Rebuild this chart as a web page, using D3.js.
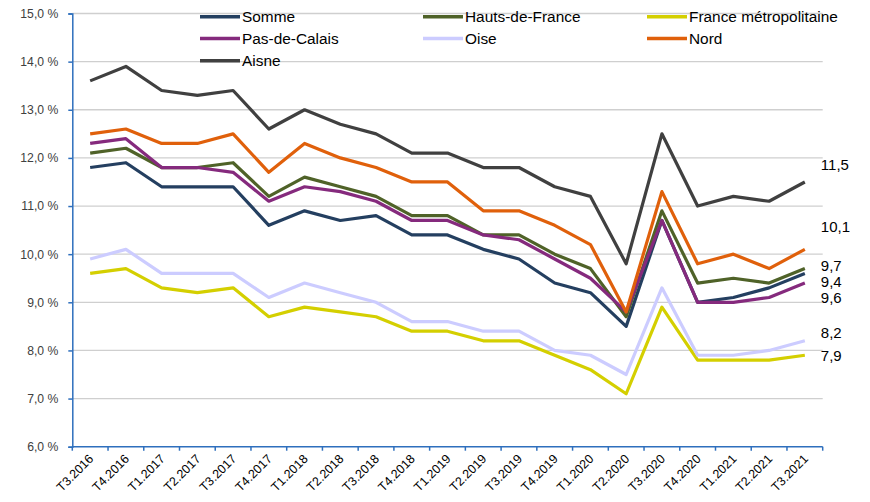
<!DOCTYPE html>
<html>
<head>
<meta charset="utf-8">
<script src="https://cdn.jsdelivr.net/npm/d3@7"></script>
<style>
  html, body { margin: 0; padding: 0; background: #fff; }
  svg { display: block; font-family: "Liberation Sans", Arial, sans-serif; }
</style>
</head>
<body>
<div id="chart"></div>
<script>
// Quarterly unemployment rates (%), T3.2016 -> T3.2021
const quarters = [
  "T3.2016", "T4.2016", "T1.2017", "T2.2017", "T3.2017", "T4.2017", "T1.2018",
  "T2.2018", "T3.2018", "T4.2018", "T1.2019", "T2.2019", "T3.2019", "T4.2019",
  "T1.2020", "T2.2020", "T3.2020", "T4.2020", "T1.2021", "T2.2021", "T3.2021"
];

const somme = [11.8, 11.9, 11.4, 11.4, 11.4, 10.6, 10.9, 10.7, 10.8, 10.4, 10.4, 10.1, 9.9, 9.4, 9.2, 8.5, 10.7, 9.0, 9.1, 9.3, 9.6];
const hautsDeFrance = [12.1, 12.2, 11.8, 11.8, 11.9, 11.2, 11.6, 11.4, 11.2, 10.8, 10.8, 10.4, 10.4, 10.0, 9.7, 8.7, 10.9, 9.4, 9.5, 9.4, 9.7];
const franceMetro = [9.6, 9.7, 9.3, 9.2, 9.3, 8.7, 8.9, 8.8, 8.7, 8.4, 8.4, 8.2, 8.2, 7.9, 7.6, 7.1, 8.9, 7.8, 7.8, 7.8, 7.9];
const pasDeCalais = [12.3, 12.4, 11.8, 11.8, 11.7, 11.1, 11.4, 11.3, 11.1, 10.7, 10.7, 10.4, 10.3, 9.9, 9.5, 8.8, 10.7, 9.0, 9.0, 9.1, 9.4];
const oise = [9.9, 10.1, 9.6, 9.6, 9.6, 9.1, 9.4, 9.2, 9.0, 8.6, 8.6, 8.4, 8.4, 8.0, 7.9, 7.5, 9.3, 7.9, 7.9, 8.0, 8.2];
const nord = [12.5, 12.6, 12.3, 12.3, 12.5, 11.7, 12.3, 12.0, 11.8, 11.5, 11.5, 10.9, 10.9, 10.6, 10.2, 8.8, 11.3, 9.8, 10.0, 9.7, 10.1];
const aisne = [13.6, 13.9, 13.4, 13.3, 13.4, 12.6, 13.0, 12.7, 12.5, 12.1, 12.1, 11.8, 11.8, 11.4, 11.2, 9.8, 12.5, 11.0, 11.2, 11.1, 11.5];

// end-of-line labels as printed in the source chart
const endLabels = ["11,5", "10,1", "9,7", "9,4", "9,6", "8,2", "7,9"];
const endLabelSeries = ["Aisne", "Nord", "Hauts-de-France", "Somme", "Pas-de-Calais", "Oise", "France métropolitaine"];

const yTicks = [6, 7, 8, 9, 10, 11, 12, 13, 14, 15];

const series = [
  { name: "Somme", values: somme, color: "#243f60" },
  { name: "Hauts-de-France", values: hautsDeFrance, color: "#4f6228" },
  { name: "France métropolitaine", values: franceMetro, color: "#d4cf00" },
  { name: "Pas-de-Calais", values: pasDeCalais, color: "#852a7d" },
  { name: "Oise", values: oise, color: "#ccccff" },
  { name: "Nord", values: nord, color: "#e0600b" },
  { name: "Aisne", values: aisne, color: "#404040" }
];

const width = 870;
const height = 502;
const AXIS_BLUE = "#2e6fbd";

const svg = d3.select("#chart").append("svg")
  .attr("width", width)
  .attr("height", height);

const x = d3.scaleBand().domain(quarters).range([72.3, 822.7]).padding(0);
const xc = (q) => x(q) + x.bandwidth() / 2;
const y = d3.scaleLinear().domain([6, 15]).range([446.7, 13.5]);

const fmtPct = (v) => d3.format(".1f")(v).replace(".", ",") + " %";

// gridlines
svg.append("g")
  .selectAll("line")
  .data(yTicks.filter((t) => t > 6))
  .join("line")
  .attr("x1", 72.3)
  .attr("x2", 822.7)
  .attr("y1", (d) => y(d))
  .attr("y2", (d) => y(d))
  .attr("stroke", "#cfcfcf")
  .attr("stroke-width", 1.3);

// y axis
const yAxis = svg.append("g")
  .attr("transform", `translate(${72.3},0)`)
  .call(d3.axisLeft(y).tickValues(yTicks).tickFormat(fmtPct).tickSize(4).tickPadding(10));
yAxis.select(".domain").attr("stroke", AXIS_BLUE).attr("stroke-width", 1.5);
yAxis.selectAll(".tick line").attr("stroke", AXIS_BLUE).attr("stroke-width", 1.5);
yAxis.selectAll(".tick text")
  .attr("font-size", 12.2)
  .attr("fill", "#404040")
  .style("font-family", "Liberation Sans, Arial, sans-serif");

// x axis: ticks between categories, labels rotated
const xAxis = svg.append("g").attr("transform", `translate(0,${y(6)})`);
xAxis.append("line")
  .attr("x1", 72.3).attr("x2", 822.7)
  .attr("stroke", AXIS_BLUE).attr("stroke-width", 1.5);
xAxis.selectAll(".xtick")
  .data(quarters.map((q) => x(q)).concat([x.range()[1]]))
  .join("line")
  .attr("class", "xtick")
  .attr("x1", (d) => d).attr("x2", (d) => d)
  .attr("y1", 0).attr("y2", 4)
  .attr("stroke", AXIS_BLUE).attr("stroke-width", 1.5);
xAxis.selectAll(".xlabel")
  .data(quarters)
  .join("text")
  .attr("class", "xlabel")
  .attr("transform", (d) => `translate(${xc(d) + 4},${13}) rotate(-45)`)
  .attr("text-anchor", "end")
  .attr("font-size", 12.5)
  .attr("fill", "#000")
  .text((d) => d);

// lines
const line = d3.line()
  .x((d, i) => xc(quarters[i]))
  .y((d) => y(d));

svg.append("g")
  .selectAll("path")
  .data(series)
  .join("path")
  .attr("fill", "none")
  .attr("stroke", (d) => d.color)
  .attr("stroke-width", 3.2)
  .attr("stroke-linejoin", "round")
  .attr("d", (d) => line(d.values));

// end labels
const labelDy = [-17, -23, -3, 8, 15, -8, 1];
const last = quarters[quarters.length - 1];
svg.append("g")
  .selectAll("text")
  .data(endLabels)
  .join("text")
  .attr("x", xc(last) + 16)
  .attr("y", (d, i) => {
    const s = series.find((e) => e.name === endLabelSeries[i]);
    return y(s.values[s.values.length - 1]) + labelDy[i];
  })
  .attr("dy", "0.35em")
  .attr("font-size", 15)
  .attr("fill", "#000")
  .text((d) => d);

// legend: 3 columns
const legendCols = [200, 423, 647];
const legendRows = [16.7, 38.5, 60.7];
const legend = svg.append("g")
  .selectAll("g")
  .data(series)
  .join("g")
  .attr("transform", (d, i) => `translate(${legendCols[i % 3]},${legendRows[Math.floor(i / 3)]})`);
legend.append("line")
  .attr("x1", 0).attr("x2", 40)
  .attr("stroke", (d) => d.color)
  .attr("stroke-width", 3.5);
legend.append("text")
  .attr("x", 42)
  .attr("dy", "0.36em")
  .attr("font-size", 15.4)
  .attr("fill", "#000")
  .text((d) => d.name);
</script>
</body>
</html>
